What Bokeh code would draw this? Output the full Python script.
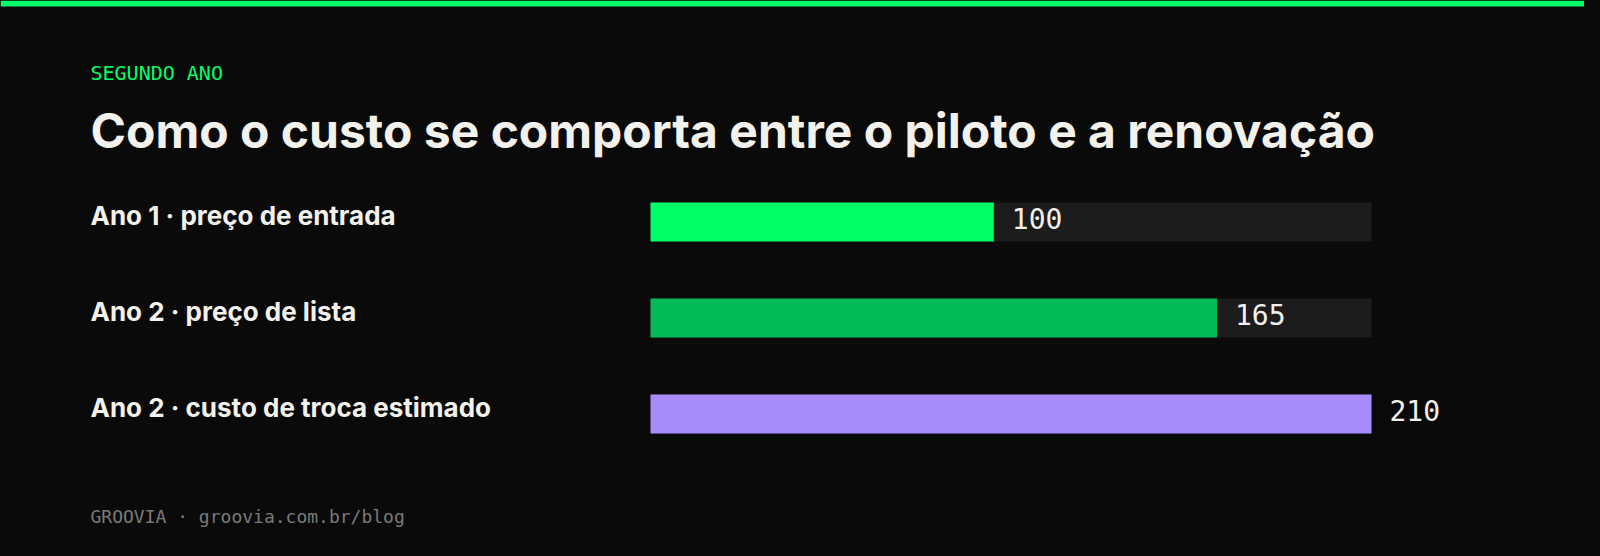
from bokeh.plotting import figure
from bokeh.models import Range1d, Label, ColumnDataSource, GlobalInlineStyleSheet
from bokeh.core.properties import value
from bokeh.embed import file_html
from bokeh.resources import INLINE

# ---- data ----
categories = ["Ano 1 · preço de entrada", "Ano 2 · preço de lista", "Ano 2 · custo de troca estimado"]
values = [100, 165, 210]
value_labels = ["100", "165", "210"]
bar_colors = ["#00ff66", "#03bb55", "#a78bfa"]
eyebrow = "SEGUNDO ANO"
headline = "Como o custo se comporta entre o piloto e a renovação"
footer = "GROOVIA · groovia.com.br/blog"

# ---- layout (pixels within the figure) ----
W, H = 1584, 540
BAR_X0, BAR_X1 = 650, 1371
TEXT_X = 90
FIRST_CENTER, STEP, BAR_H = 221.5, 96, 39
BG = "#0a0a0a"
FG = "#f2f1ec"
TRACK = "#1c1c1c"
SANS = "Inter"
MONO = "DejaVu Sans Mono"

vmax = max(values)
ppu = (BAR_X1 - BAR_X0) / vmax


def px(xpix):
    return (xpix - BAR_X0) / ppu


p = figure(width=W, height=H, output_backend="svg", toolbar_location=None,
           x_range=Range1d(px(0), px(W)), y_range=Range1d(H, 0),
           x_axis_location=None, y_axis_location=None,
           min_border=0, outline_line_color=None,
           background_fill_color=BG, border_fill_color=BG)
p.grid.visible = False
p.stylesheets = [GlobalInlineStyleSheet(css="html,body{background:%s;}" % BG)]

centers = [FIRST_CENTER + i * STEP for i in range(len(values))]
src = ColumnDataSource(dict(cat=categories, val=values, lab=value_labels, col=bar_colors,
                            y=centers, ylab=[c - 6.2 for c in centers],
                            yval=[c - 3.2 for c in centers],
                            track=[vmax] * len(values), zero=[0] * len(values)))

# top stripe
p.quad(left=px(0), right=px(W), top=0, bottom=6, fill_color="#00ff66", line_color=None)

# tracks and bars
p.hbar(y="y", left="zero", right="track", height=BAR_H, source=src, fill_color=TRACK, line_color=None)
p.hbar(y="y", left="zero", right="val", height=BAR_H, source=src, fill_color="col", line_color=None)

# value labels
p.text(x="val", y="yval", text="lab", source=src, x_offset=18, text_align="left",
       text_baseline="alphabetic", text_color=FG, text_font=value(MONO), text_font_size="28px")

# category labels
p.text(x=px(TEXT_X), y="ylab", text="cat", source=src, text_align="left",
       text_baseline="alphabetic", text_color=FG, text_font=value(SANS), text_font_style="bold",
       text_font_size="26px")

# eyebrow, headline, footer
p.add_layout(Label(x=px(TEXT_X), y=72, text=eyebrow, text_font=MONO, text_font_size="20px",
                   text_color="#00ff66", text_baseline="alphabetic", text_align="left"))
p.add_layout(Label(x=px(TEXT_X), y=129.6, text=headline, text_font=SANS, text_font_style="bold",
                   text_font_size="48px", text_color=FG, text_baseline="alphabetic", text_align="left"))
p.add_layout(Label(x=px(TEXT_X), y=516, text=footer, text_font=MONO, text_font_size="18px",
                   text_color="#7a7a7a", text_baseline="alphabetic", text_align="left"))

open("out.html", "w").write(file_html(p, INLINE))
